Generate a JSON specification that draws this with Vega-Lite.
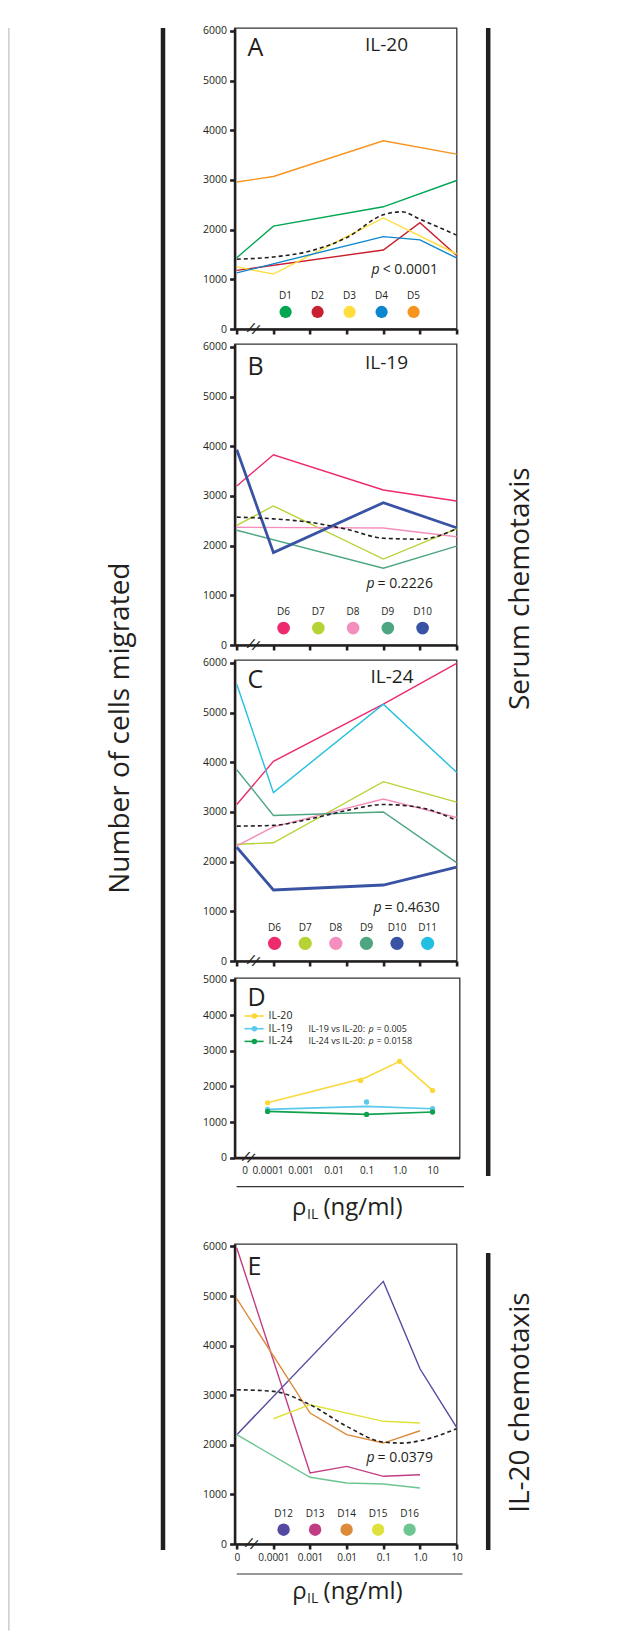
{
"$schema":"https://vega.github.io/schema/vega-lite/v6.json",
"usermeta":{"embedOptions":{"actions":false}},
"padding":{"top":25,"left":8,"right":5,"bottom":3},
"background":"white",
"config":{"font":"Open Sans","view":{"stroke":"#333333","strokeWidth":1.3},
"axis":{"domainColor":"#231f20","domainWidth":2.6,"tickColor":"#231f20","tickWidth":2.6,"tickSize":5,"tickCount":20,"format":"d","labelFont":"Open Sans","labelFontSize":10.5,"labelColor":"#231f20","grid":false,"labelPadding":3,"labelFlush":false,"labelOverlap":false},
"text":{"font":"Open Sans","color":"#231f20"}},
"datasets":{
"lines":[
{"panel":"A","donor":"D1","x":0,"y":1435},{"panel":"A","donor":"D1","x":1,"y":2070},{"panel":"A","donor":"D1","x":4,"y":2460},{"panel":"A","donor":"D1","x":6,"y":2990},
{"panel":"A","donor":"D2","x":0,"y":1180},{"panel":"A","donor":"D2","x":4,"y":1590},{"panel":"A","donor":"D2","x":5,"y":2140},{"panel":"A","donor":"D2","x":6,"y":1480},
{"panel":"A","donor":"D3","x":0,"y":1250},{"panel":"A","donor":"D3","x":1,"y":1105},{"panel":"A","donor":"D3","x":4,"y":2235},{"panel":"A","donor":"D3","x":6,"y":1510},
{"panel":"A","donor":"D4","x":0,"y":1130},{"panel":"A","donor":"D4","x":4,"y":1860},{"panel":"A","donor":"D4","x":5,"y":1795},{"panel":"A","donor":"D4","x":6,"y":1430},
{"panel":"A","donor":"D5","x":0,"y":2960},{"panel":"A","donor":"D5","x":1,"y":3070},{"panel":"A","donor":"D5","x":4,"y":3790},{"panel":"A","donor":"D5","x":6,"y":3520},
{"panel":"B","donor":"D6","x":0,"y":3200},{"panel":"B","donor":"D6","x":1,"y":3830},{"panel":"B","donor":"D6","x":4,"y":3120},{"panel":"B","donor":"D6","x":6,"y":2900},
{"panel":"B","donor":"D7","x":0,"y":2410},{"panel":"B","donor":"D7","x":1,"y":2800},{"panel":"B","donor":"D7","x":4,"y":1730},{"panel":"B","donor":"D7","x":6,"y":2340},
{"panel":"B","donor":"D8","x":0,"y":2370},{"panel":"B","donor":"D8","x":4,"y":2355},{"panel":"B","donor":"D8","x":6,"y":2180},
{"panel":"B","donor":"D9","x":0,"y":2310},{"panel":"B","donor":"D9","x":4,"y":1545},{"panel":"B","donor":"D9","x":6,"y":1990},
{"panel":"B","donor":"D10","x":0,"y":3930},{"panel":"B","donor":"D10","x":1,"y":1860},{"panel":"B","donor":"D10","x":4,"y":2865},{"panel":"B","donor":"D10","x":6,"y":2360},
{"panel":"C","donor":"D6","x":0,"y":3150},{"panel":"C","donor":"D6","x":1,"y":4020},{"panel":"C","donor":"D6","x":4,"y":5170},{"panel":"C","donor":"D6","x":6,"y":5990},
{"panel":"C","donor":"D7","x":0,"y":2350},{"panel":"C","donor":"D7","x":1,"y":2380},{"panel":"C","donor":"D7","x":4,"y":3610},{"panel":"C","donor":"D7","x":6,"y":3200},
{"panel":"C","donor":"D8","x":0,"y":2320},{"panel":"C","donor":"D8","x":1,"y":2700},{"panel":"C","donor":"D8","x":4,"y":3260},{"panel":"C","donor":"D8","x":6,"y":2890},
{"panel":"C","donor":"D9","x":0,"y":3850},{"panel":"C","donor":"D9","x":1,"y":2930},{"panel":"C","donor":"D9","x":4,"y":3000},{"panel":"C","donor":"D9","x":6,"y":1980},
{"panel":"C","donor":"D10","x":0,"y":2290},{"panel":"C","donor":"D10","x":1,"y":1430},{"panel":"C","donor":"D10","x":4,"y":1530},{"panel":"C","donor":"D10","x":6,"y":1890},
{"panel":"C","donor":"D11","x":0,"y":5570},{"panel":"C","donor":"D11","x":1,"y":3390},{"panel":"C","donor":"D11","x":4,"y":5170},{"panel":"C","donor":"D11","x":6,"y":3800},
{"panel":"E","donor":"D12","x":0,"y":2204},{"panel":"E","donor":"D12","x":4,"y":5296},{"panel":"E","donor":"D12","x":5,"y":3534},{"panel":"E","donor":"D12","x":6,"y":2353},
{"panel":"E","donor":"D13","x":0,"y":5968},{"panel":"E","donor":"D13","x":2,"y":1431},{"panel":"E","donor":"D13","x":3,"y":1566},{"panel":"E","donor":"D13","x":4,"y":1365},{"panel":"E","donor":"D13","x":5,"y":1398},
{"panel":"E","donor":"D14","x":0,"y":4946},{"panel":"E","donor":"D14","x":2,"y":2641},{"panel":"E","donor":"D14","x":3,"y":2204},{"panel":"E","donor":"D14","x":4,"y":2036},{"panel":"E","donor":"D14","x":5,"y":2284},
{"panel":"E","donor":"D15","x":1,"y":2526},{"panel":"E","donor":"D15","x":2,"y":2809},{"panel":"E","donor":"D15","x":4,"y":2474},{"panel":"E","donor":"D15","x":5,"y":2440},
{"panel":"E","donor":"D16","x":0,"y":2204},{"panel":"E","donor":"D16","x":2,"y":1345},{"panel":"E","donor":"D16","x":3,"y":1230},{"panel":"E","donor":"D16","x":4,"y":1210},{"panel":"E","donor":"D16","x":5,"y":1129}
],
"fits":[
{"panel":"A","x":0,"y":1405},{"panel":"A","x":1,"y":1450},{"panel":"A","x":2,"y":1570},{"panel":"A","x":3,"y":1840},{"panel":"A","x":4,"y":2300},{"panel":"A","x":4.5,"y":2360},{"panel":"A","x":5,"y":2210},{"panel":"A","x":6,"y":1890},
{"panel":"B","x":0,"y":2575},{"panel":"B","x":1,"y":2540},{"panel":"B","x":2,"y":2470},{"panel":"B","x":3,"y":2330},{"panel":"B","x":4,"y":2150},{"panel":"B","x":5,"y":2130},{"panel":"B","x":6,"y":2340},
{"panel":"C","x":0,"y":2715},{"panel":"C","x":1,"y":2730},{"panel":"C","x":2,"y":2860},{"panel":"C","x":3,"y":3030},{"panel":"C","x":4,"y":3150},{"panel":"C","x":5,"y":3090},{"panel":"C","x":6,"y":2830},
{"panel":"E","x":0,"y":3111},{"panel":"E","x":1,"y":3078},{"panel":"E","x":2,"y":2809},{"panel":"E","x":3,"y":2373},{"panel":"E","x":4,"y":2056},{"panel":"E","x":4.5,"y":2035},{"panel":"E","x":5,"y":2083},{"panel":"E","x":6,"y":2325}
],
"legend":[
{"panel":"A","donor":"D1"},{"panel":"A","donor":"D2"},{"panel":"A","donor":"D3"},{"panel":"A","donor":"D4"},{"panel":"A","donor":"D5"},
{"panel":"B","donor":"D6"},{"panel":"B","donor":"D7"},{"panel":"B","donor":"D8"},{"panel":"B","donor":"D9"},{"panel":"B","donor":"D10"},
{"panel":"C","donor":"D6"},{"panel":"C","donor":"D7"},{"panel":"C","donor":"D8"},{"panel":"C","donor":"D9"},{"panel":"C","donor":"D10"},{"panel":"C","donor":"D11"},
{"panel":"E","donor":"D12"},{"panel":"E","donor":"D13"},{"panel":"E","donor":"D14"},{"panel":"E","donor":"D15"},{"panel":"E","donor":"D16"}
],
"dl":[
{"series":"IL-20","x":1,"y":1540},{"series":"IL-20","x":3.95,"y":2236},{"series":"IL-20","x":5,"y":2703},{"series":"IL-20","x":6,"y":1888},
{"series":"IL-19","x":1,"y":1354},{"series":"IL-19","x":4,"y":1440},{"series":"IL-19","x":6,"y":1374},
{"series":"IL-24","x":1,"y":1298},{"series":"IL-24","x":4,"y":1213},{"series":"IL-24","x":6,"y":1281}
],
"dp":[
{"series":"IL-20","x":1,"y":1540},{"series":"IL-20","x":3.82,"y":2169},{"series":"IL-20","x":5,"y":2703},{"series":"IL-20","x":6,"y":1888},
{"series":"IL-19","x":1,"y":1354},{"series":"IL-19","x":4,"y":1562},{"series":"IL-19","x":6,"y":1374},
{"series":"IL-24","x":1,"y":1298},{"series":"IL-24","x":4,"y":1213},{"series":"IL-24","x":6,"y":1281}
],
"dleg":[
{"series":"IL-20","s1":"","s2":"","s3":""},
{"series":"IL-19","s1":"IL-19 vs IL-20:","s2":"p","s3":"= 0.005"},
{"series":"IL-24","s1":"IL-24 vs IL-20:","s2":"p","s3":"= 0.0158"}
]
},
"spacing":7.6,
"hconcat":[
{"width":30.4,"height":1522,"view":{"stroke":null},
"encoding":{"x":{"datum":0,"type":"quantitative","scale":{"domain":[0,1]},"axis":null},"y":{"datum":0,"type":"quantitative","scale":{"domain":[0,1]},"axis":null}},
"layer":[
{"data":{"values":[{"t":"frame"}]},"mark":{"type":"rule","color":"#c4c4c4","strokeWidth":1.3},"encoding":{"x":{"datum":-5.07},"y":{"datum":-0.053},"y2":{"datum":1}}},
{"data":{"values":[{"t":"bar"}]},"mark":{"type":"rule","color":"#231f20","strokeWidth":4.5},"encoding":{"y":{"datum":0},"y2":{"datum":1}}},
{"data":{"values":[{"t":"Number of cells migrated"}]},"mark":{"type":"text","fontSize":28,"angle":270,"align":"center","baseline":"middle"},"encoding":{"x":{"datum":-1.38},"y":{"datum":0.54},"text":{"field":"t"}}}
]},
{"vconcat":[
{"width":222,"height":301,"resolve":{"scale":{"x":"independent"}},
"layer":[
{"layer":[
{"data":{"name":"lines"},"transform":[{"filter":"datum.panel === 'A'"}],"mark":{"type":"line"},
"encoding":{"x":{"field":"x","type":"quantitative","scale":{"domain":[-0.06,6],"nice":false,"zero":false},"axis":{"values":[0,1,2,3,4,5,6],"labels":false,"title":null}},
"y":{"field":"y","type":"quantitative","scale":{"domain":[0,6060],"nice":false},"axis":{"values":[0,1000,2000,3000,4000,5000,6000],"title":null}},
"color":{"field":"donor","type":"nominal","legend":null,"scale":{"domain":["D1","D2","D3","D4","D5","D6","D7","D8","D9","D10","D11","D12","D13","D14","D15","D16","IL-20","IL-19","IL-24"],"range":["#00a651","#c8202f","#ffde3b","#0c87cf","#f7941d","#ed2a6d","#b6d335","#f48fbd","#4ea680","#3953a4","#23bfe0","#5449a0","#c13d83","#dd8a3a","#dee23b","#6dc592","#fbd839","#5bc8ee","#10a14f"]}},
"strokeWidth":{"condition":{"test":"datum.donor === 'D10'","value":2.8},"value":1.4}}},
{"data":{"name":"fits"},"transform":[{"filter":"datum.panel === 'A'"}],"mark":{"type":"line","color":"#231f20","strokeWidth":1.6,"strokeDash":[4,3],"interpolate":"monotone"},"encoding":{"x":{"field":"x","type":"quantitative"},"y":{"field":"y","type":"quantitative"}}},
{"data":{"values":[{"t":"A"}]},"mark":{"type":"text","fontSize":25,"align":"left","baseline":"alphabetic"},"encoding":{"x":{"datum":0.295},"y":{"datum":5504},"text":{"field":"t"}}},
{"data":{"values":[{"t":"IL-20"}]},"mark":{"type":"text","fontSize":19,"align":"left","baseline":"alphabetic"},"encoding":{"x":{"datum":3.5},"y":{"datum":5591},"text":{"field":"t"}}},
{"data":{"values":[{"t":"p"}]},"mark":{"type":"text","fontSize":14,"fontStyle":"italic","align":"right","baseline":"alphabetic"},"encoding":{"x":{"datum":3.9},"y":{"datum":1103},"text":{"field":"t"}}},
{"data":{"values":[{"t":"< 0.0001"}]},"mark":{"type":"text","fontSize":14,"align":"left","baseline":"alphabetic","dx":3},"encoding":{"x":{"datum":3.9},"y":{"datum":1103},"text":{"field":"t"}}},
{"data":{"values":[{"t":"//"}]},"mark":{"type":"text","fontSize":15,"angle":20,"align":"center","baseline":"middle"},"encoding":{"x":{"datum":0.45},"y":{"datum":0},"text":{"field":"t"}}}
]},
{"data":{"name":"legend"},"transform":[{"filter":"datum.panel === 'A'"}],
"encoding":{"x":{"field":"donor","type":"nominal","scale":{"type":"point","domain":["D1","D2","D3","D4","D5"],"range":[51,179],"padding":0},"axis":null}},
"layer":[
{"mark":{"type":"point","filled":true,"opacity":1,"size":150},"encoding":{"y":{"datum":343},"color":{"field":"donor","type":"nominal","legend":null,"scale":{"domain":["D1","D2","D3","D4","D5","D6","D7","D8","D9","D10","D11","D12","D13","D14","D15","D16","IL-20","IL-19","IL-24"],"range":["#00a651","#c8202f","#ffde3b","#0c87cf","#f7941d","#ed2a6d","#b6d335","#f48fbd","#4ea680","#3953a4","#23bfe0","#5449a0","#c13d83","#dd8a3a","#dee23b","#6dc592","#fbd839","#5bc8ee","#10a14f"]}}}},
{"mark":{"type":"text","fontSize":10,"align":"center","baseline":"alphabetic"},"encoding":{"y":{"datum":599},"text":{"field":"donor"}}}
]}
]},
{"width":222,"height":301,"resolve":{"scale":{"x":"independent"}},
"layer":[
{"layer":[
{"data":{"name":"lines"},"transform":[{"filter":"datum.panel === 'B'"}],"mark":{"type":"line"},
"encoding":{"x":{"field":"x","type":"quantitative","scale":{"domain":[-0.06,6],"nice":false,"zero":false},"axis":{"values":[0,1,2,3,4,5,6],"labels":false,"title":null}},
"y":{"field":"y","type":"quantitative","scale":{"domain":[0,6060],"nice":false},"axis":{"values":[0,1000,2000,3000,4000,5000,6000],"title":null}},
"color":{"field":"donor","type":"nominal","legend":null,"scale":{"domain":["D1","D2","D3","D4","D5","D6","D7","D8","D9","D10","D11","D12","D13","D14","D15","D16","IL-20","IL-19","IL-24"],"range":["#00a651","#c8202f","#ffde3b","#0c87cf","#f7941d","#ed2a6d","#b6d335","#f48fbd","#4ea680","#3953a4","#23bfe0","#5449a0","#c13d83","#dd8a3a","#dee23b","#6dc592","#fbd839","#5bc8ee","#10a14f"]}},
"strokeWidth":{"condition":{"test":"datum.donor === 'D10'","value":2.8},"value":1.4}}},
{"data":{"name":"fits"},"transform":[{"filter":"datum.panel === 'B'"}],"mark":{"type":"line","color":"#231f20","strokeWidth":1.6,"strokeDash":[4,3],"interpolate":"monotone"},"encoding":{"x":{"field":"x","type":"quantitative"},"y":{"field":"y","type":"quantitative"}}},
{"data":{"values":[{"t":"B"}]},"mark":{"type":"text","fontSize":25,"align":"left","baseline":"alphabetic"},"encoding":{"x":{"datum":0.295},"y":{"datum":5442},"text":{"field":"t"}}},
{"data":{"values":[{"t":"IL-19"}]},"mark":{"type":"text","fontSize":19,"align":"left","baseline":"alphabetic"},"encoding":{"x":{"datum":3.5},"y":{"datum":5562},"text":{"field":"t"}}},
{"data":{"values":[{"t":"p"}]},"mark":{"type":"text","fontSize":14,"fontStyle":"italic","align":"right","baseline":"alphabetic"},"encoding":{"x":{"datum":3.76},"y":{"datum":1145},"text":{"field":"t"}}},
{"data":{"values":[{"t":"= 0.2226"}]},"mark":{"type":"text","fontSize":14,"align":"left","baseline":"alphabetic","dx":3},"encoding":{"x":{"datum":3.76},"y":{"datum":1145},"text":{"field":"t"}}},
{"data":{"values":[{"t":"//"}]},"mark":{"type":"text","fontSize":15,"angle":20,"align":"center","baseline":"middle"},"encoding":{"x":{"datum":0.45},"y":{"datum":0},"text":{"field":"t"}}}
]},
{"data":{"name":"legend"},"transform":[{"filter":"datum.panel === 'B'"}],
"encoding":{"x":{"field":"donor","type":"nominal","scale":{"type":"point","domain":["D6","D7","D8","D9","D10"],"range":[49,188],"padding":0},"axis":null}},
"layer":[
{"mark":{"type":"point","filled":true,"opacity":1,"size":160},"encoding":{"y":{"datum":341},"color":{"field":"donor","type":"nominal","legend":null,"scale":{"domain":["D1","D2","D3","D4","D5","D6","D7","D8","D9","D10","D11","D12","D13","D14","D15","D16","IL-20","IL-19","IL-24"],"range":["#00a651","#c8202f","#ffde3b","#0c87cf","#f7941d","#ed2a6d","#b6d335","#f48fbd","#4ea680","#3953a4","#23bfe0","#5449a0","#c13d83","#dd8a3a","#dee23b","#6dc592","#fbd839","#5bc8ee","#10a14f"]}}}},
{"mark":{"type":"text","fontSize":10,"align":"center","baseline":"alphabetic"},"encoding":{"y":{"datum":602},"text":{"field":"donor"}}}
]}
]},
{"width":222,"height":301,"resolve":{"scale":{"x":"independent"}},
"layer":[
{"layer":[
{"data":{"name":"lines"},"transform":[{"filter":"datum.panel === 'C'"}],"mark":{"type":"line"},
"encoding":{"x":{"field":"x","type":"quantitative","scale":{"domain":[-0.06,6],"nice":false,"zero":false},"axis":{"values":[0,1,2,3,4,5,6],"labels":false,"title":null}},
"y":{"field":"y","type":"quantitative","scale":{"domain":[0,6060],"nice":false},"axis":{"values":[0,1000,2000,3000,4000,5000,6000],"title":null}},
"color":{"field":"donor","type":"nominal","legend":null,"scale":{"domain":["D1","D2","D3","D4","D5","D6","D7","D8","D9","D10","D11","D12","D13","D14","D15","D16","IL-20","IL-19","IL-24"],"range":["#00a651","#c8202f","#ffde3b","#0c87cf","#f7941d","#ed2a6d","#b6d335","#f48fbd","#4ea680","#3953a4","#23bfe0","#5449a0","#c13d83","#dd8a3a","#dee23b","#6dc592","#fbd839","#5bc8ee","#10a14f"]}},
"strokeWidth":{"condition":{"test":"datum.donor === 'D10'","value":2.8},"value":1.4}}},
{"data":{"name":"fits"},"transform":[{"filter":"datum.panel === 'C'"}],"mark":{"type":"line","color":"#231f20","strokeWidth":1.6,"strokeDash":[4,3],"interpolate":"monotone"},"encoding":{"x":{"field":"x","type":"quantitative"},"y":{"field":"y","type":"quantitative"}}},
{"data":{"values":[{"t":"C"}]},"mark":{"type":"text","fontSize":25,"align":"left","baseline":"alphabetic"},"encoding":{"x":{"datum":0.295},"y":{"datum":5496},"text":{"field":"t"}}},
{"data":{"values":[{"t":"IL-24"}]},"mark":{"type":"text","fontSize":19,"align":"left","baseline":"alphabetic"},"encoding":{"x":{"datum":3.65},"y":{"datum":5596},"text":{"field":"t"}}},
{"data":{"values":[{"t":"p"}]},"mark":{"type":"text","fontSize":14,"fontStyle":"italic","align":"right","baseline":"alphabetic"},"encoding":{"x":{"datum":3.95},"y":{"datum":990},"text":{"field":"t"}}},
{"data":{"values":[{"t":"= 0.4630"}]},"mark":{"type":"text","fontSize":14,"align":"left","baseline":"alphabetic","dx":3},"encoding":{"x":{"datum":3.95},"y":{"datum":990},"text":{"field":"t"}}},
{"data":{"values":[{"t":"//"}]},"mark":{"type":"text","fontSize":15,"angle":20,"align":"center","baseline":"middle"},"encoding":{"x":{"datum":0.45},"y":{"datum":0},"text":{"field":"t"}}}
]},
{"data":{"name":"legend"},"transform":[{"filter":"datum.panel === 'C'"}],
"encoding":{"x":{"field":"donor","type":"nominal","scale":{"type":"point","domain":["D6","D7","D8","D9","D10","D11"],"range":[40,193],"padding":0},"axis":null}},
"layer":[
{"mark":{"type":"point","filled":true,"opacity":1,"size":175},"encoding":{"y":{"datum":355},"color":{"field":"donor","type":"nominal","legend":null,"scale":{"domain":["D1","D2","D3","D4","D5","D6","D7","D8","D9","D10","D11","D12","D13","D14","D15","D16","IL-20","IL-19","IL-24"],"range":["#00a651","#c8202f","#ffde3b","#0c87cf","#f7941d","#ed2a6d","#b6d335","#f48fbd","#4ea680","#3953a4","#23bfe0","#5449a0","#c13d83","#dd8a3a","#dee23b","#6dc592","#fbd839","#5bc8ee","#10a14f"]}}}},
{"mark":{"type":"text","fontSize":10,"align":"center","baseline":"alphabetic"},"encoding":{"y":{"datum":608},"text":{"field":"donor"}}}
]}
]},
{"width":225,"height":179.6,"resolve":{"scale":{"y":"independent"}},
"layer":[
{"layer":[
{"data":{"name":"dl"},"mark":{"type":"line","strokeWidth":1.6},
"encoding":{"x":{"field":"x","type":"quantitative","scale":{"domain":[0,6.82],"nice":false,"zero":false},"axis":{"values":[0.3,1,2,3,4,5,6],"ticks":false,"labelPadding":8,"labelFontSize":10,"title":null,"labelExpr":"datum.value < 0.5 ? '0' : ['0','0.0001','0.001','0.01','0.1','1.0','10'][datum.value]"}},
"y":{"field":"y","type":"quantitative","scale":{"domain":[0,5045],"nice":false},"axis":{"values":[0,1000,2000,3000,4000,5000],"title":null}},
"color":{"field":"series","type":"nominal","legend":null,"scale":{"domain":["D1","D2","D3","D4","D5","D6","D7","D8","D9","D10","D11","D12","D13","D14","D15","D16","IL-20","IL-19","IL-24"],"range":["#00a651","#c8202f","#ffde3b","#0c87cf","#f7941d","#ed2a6d","#b6d335","#f48fbd","#4ea680","#3953a4","#23bfe0","#5449a0","#c13d83","#dd8a3a","#dee23b","#6dc592","#fbd839","#5bc8ee","#10a14f"]}},
"strokeWidth":{"condition":{"test":"datum.series === 'IL-19'","value":2.2},"value":1.6}}},
{"data":{"name":"dp"},"mark":{"type":"point","filled":true,"opacity":1,"size":28},
"encoding":{"x":{"field":"x","type":"quantitative"},"y":{"field":"y","type":"quantitative"},
"color":{"field":"series","type":"nominal","legend":null,"scale":{"domain":["D1","D2","D3","D4","D5","D6","D7","D8","D9","D10","D11","D12","D13","D14","D15","D16","IL-20","IL-19","IL-24"],"range":["#00a651","#c8202f","#ffde3b","#0c87cf","#f7941d","#ed2a6d","#b6d335","#f48fbd","#4ea680","#3953a4","#23bfe0","#5449a0","#c13d83","#dd8a3a","#dee23b","#6dc592","#fbd839","#5bc8ee","#10a14f"]}}}},
{"data":{"values":[{"t":"D"}]},"mark":{"type":"text","fontSize":25,"align":"left","baseline":"alphabetic"},"encoding":{"x":{"datum":0.39},"y":{"datum":4258},"text":{"field":"t"}}},
{"data":{"values":[{"t":"//"}]},"mark":{"type":"text","fontSize":15,"angle":20,"align":"center","baseline":"middle"},"encoding":{"x":{"datum":0.42},"y":{"datum":0},"text":{"field":"t"}}},
{"data":{"values":[{"t":"rule"}]},"mark":{"type":"rule","color":"#333333","strokeWidth":1.2},"encoding":{"x":{"datum":0.06},"x2":{"datum":6.95},"y":{"datum":-817}}},
{"data":{"values":[{"t":"ρ"}]},"mark":{"type":"text","fontSize":24,"align":"right","baseline":"alphabetic"},"encoding":{"x":{"datum":2.18},"y":{"datum":-1620},"text":{"field":"t"}}},
{"data":{"values":[{"t":"IL"}]},"mark":{"type":"text","fontSize":14,"align":"left","baseline":"alphabetic","dx":0.5,"dy":4},"encoding":{"x":{"datum":2.18},"y":{"datum":-1620},"text":{"field":"t"}}},
{"data":{"values":[{"t":"(ng/ml)"}]},"mark":{"type":"text","fontSize":24,"align":"left","baseline":"alphabetic","dx":17},"encoding":{"x":{"datum":2.18},"y":{"datum":-1620},"text":{"field":"t"}}}
]},
{"data":{"name":"dleg"},
"encoding":{"y":{"field":"series","type":"nominal","scale":{"type":"point","domain":["IL-20","IL-19","IL-24"],"range":[38,63.4],"padding":0},"axis":null}},
"layer":[
{"mark":{"type":"rule","strokeWidth":1.6},"encoding":{"x":{"datum":0.3},"x2":{"datum":0.88},"color":{"field":"series","type":"nominal","legend":null,"scale":{"domain":["D1","D2","D3","D4","D5","D6","D7","D8","D9","D10","D11","D12","D13","D14","D15","D16","IL-20","IL-19","IL-24"],"range":["#00a651","#c8202f","#ffde3b","#0c87cf","#f7941d","#ed2a6d","#b6d335","#f48fbd","#4ea680","#3953a4","#23bfe0","#5449a0","#c13d83","#dd8a3a","#dee23b","#6dc592","#fbd839","#5bc8ee","#10a14f"]}}}},
{"mark":{"type":"point","filled":true,"opacity":1,"size":30},"encoding":{"x":{"datum":0.6},"color":{"field":"series","type":"nominal","legend":null,"scale":{"domain":["D1","D2","D3","D4","D5","D6","D7","D8","D9","D10","D11","D12","D13","D14","D15","D16","IL-20","IL-19","IL-24"],"range":["#00a651","#c8202f","#ffde3b","#0c87cf","#f7941d","#ed2a6d","#b6d335","#f48fbd","#4ea680","#3953a4","#23bfe0","#5449a0","#c13d83","#dd8a3a","#dee23b","#6dc592","#fbd839","#5bc8ee","#10a14f"]}}}},
{"mark":{"type":"text","fontSize":10.5,"align":"left","baseline":"middle"},"encoding":{"x":{"datum":1.03},"text":{"field":"series"}}},
{"mark":{"type":"text","fontSize":9,"align":"left","baseline":"middle"},"encoding":{"x":{"datum":2.24},"text":{"field":"s1"}}},
{"mark":{"type":"text","fontSize":9,"fontStyle":"italic","align":"left","baseline":"middle"},"encoding":{"x":{"datum":4.06},"text":{"field":"s2"}}},
{"mark":{"type":"text","fontSize":9,"align":"left","baseline":"middle"},"encoding":{"x":{"datum":4.3},"text":{"field":"s3"}}}
]}
]},
{"width":222,"height":14.4,"view":{"stroke":null},"data":{"values":[{"t":""}]},"mark":{"type":"text"},"encoding":{"text":{"field":"t"}}},
{"width":222,"height":300,"resolve":{"scale":{"x":"independent"}},
"layer":[
{"layer":[
{"data":{"name":"lines"},"transform":[{"filter":"datum.panel === 'E'"}],"mark":{"type":"line"},
"encoding":{"x":{"field":"x","type":"quantitative","scale":{"domain":[-0.06,6],"nice":false,"zero":false},"axis":{"values":[0,1,2,3,4,5,6],"labelFontSize":10,"title":null,"labelExpr":"['0','0.0001','0.001','0.01','0.1','1.0','10'][datum.value]"}},
"y":{"field":"y","type":"quantitative","scale":{"domain":[0,6050],"nice":false},"axis":{"values":[0,1000,2000,3000,4000,5000,6000],"title":null}},
"color":{"field":"donor","type":"nominal","legend":null,"scale":{"domain":["D1","D2","D3","D4","D5","D6","D7","D8","D9","D10","D11","D12","D13","D14","D15","D16","IL-20","IL-19","IL-24"],"range":["#00a651","#c8202f","#ffde3b","#0c87cf","#f7941d","#ed2a6d","#b6d335","#f48fbd","#4ea680","#3953a4","#23bfe0","#5449a0","#c13d83","#dd8a3a","#dee23b","#6dc592","#fbd839","#5bc8ee","#10a14f"]}},
"strokeWidth":{"value":1.4}}},
{"data":{"name":"fits"},"transform":[{"filter":"datum.panel === 'E'"}],"mark":{"type":"line","color":"#231f20","strokeWidth":1.6,"strokeDash":[4,3],"interpolate":"monotone"},"encoding":{"x":{"field":"x","type":"quantitative"},"y":{"field":"y","type":"quantitative"}}},
{"data":{"values":[{"t":"E"}]},"mark":{"type":"text","fontSize":25,"align":"left","baseline":"alphabetic"},"encoding":{"x":{"datum":0.295},"y":{"datum":5429},"text":{"field":"t"}}},
{"data":{"values":[{"t":"p"}]},"mark":{"type":"text","fontSize":14,"fontStyle":"italic","align":"right","baseline":"alphabetic"},"encoding":{"x":{"datum":3.76},"y":{"datum":1653},"text":{"field":"t"}}},
{"data":{"values":[{"t":"= 0.0379"}]},"mark":{"type":"text","fontSize":14,"align":"left","baseline":"alphabetic","dx":3},"encoding":{"x":{"datum":3.76},"y":{"datum":1653},"text":{"field":"t"}}},
{"data":{"values":[{"t":"//"}]},"mark":{"type":"text","fontSize":15,"angle":20,"align":"center","baseline":"middle"},"encoding":{"x":{"datum":0.4},"y":{"datum":0},"text":{"field":"t"}}},
{"data":{"values":[{"t":"rule"}]},"mark":{"type":"rule","color":"#333333","strokeWidth":1.2},"encoding":{"x":{"datum":0},"x2":{"datum":6.16},"y":{"datum":-605}}},
{"data":{"values":[{"t":"ρ"}]},"mark":{"type":"text","fontSize":24,"align":"right","baseline":"alphabetic"},"encoding":{"x":{"datum":1.906},"y":{"datum":-1100},"text":{"field":"t"}}},
{"data":{"values":[{"t":"IL"}]},"mark":{"type":"text","fontSize":14,"align":"left","baseline":"alphabetic","dx":0.5,"dy":4},"encoding":{"x":{"datum":1.906},"y":{"datum":-1100},"text":{"field":"t"}}},
{"data":{"values":[{"t":"(ng/ml)"}]},"mark":{"type":"text","fontSize":24,"align":"left","baseline":"alphabetic","dx":17},"encoding":{"x":{"datum":1.906},"y":{"datum":-1100},"text":{"field":"t"}}}
]},
{"data":{"name":"legend"},"transform":[{"filter":"datum.panel === 'E'"}],
"encoding":{"x":{"field":"donor","type":"nominal","scale":{"type":"point","domain":["D12","D13","D14","D15","D16"],"range":[49,175],"padding":0},"axis":null}},
"layer":[
{"mark":{"type":"point","filled":true,"opacity":1,"size":155},"encoding":{"y":{"datum":288},"color":{"field":"donor","type":"nominal","legend":null,"scale":{"domain":["D1","D2","D3","D4","D5","D6","D7","D8","D9","D10","D11","D12","D13","D14","D15","D16","IL-20","IL-19","IL-24"],"range":["#00a651","#c8202f","#ffde3b","#0c87cf","#f7941d","#ed2a6d","#b6d335","#f48fbd","#4ea680","#3953a4","#23bfe0","#5449a0","#c13d83","#dd8a3a","#dee23b","#6dc592","#fbd839","#5bc8ee","#10a14f"]}}}},
{"mark":{"type":"text","fontSize":10,"align":"center","baseline":"alphabetic"},"encoding":{"y":{"datum":538},"text":{"field":"donor"}}}
]}
]}
],"spacing":1,"resolve":{"scale":{"x":"independent","y":"independent"}}},
{"width":15,"height":1522,"view":{"stroke":null},
"encoding":{"x":{"datum":1,"type":"quantitative","scale":{"domain":[0,1]},"axis":null},"y":{"datum":0,"type":"quantitative","scale":{"domain":[0,1]},"axis":null}},
"layer":[
{"data":{"values":[{"t":"serum"}]},"mark":{"type":"rule","color":"#231f20","strokeWidth":4.5},"encoding":{"y":{"datum":0.2457},"y2":{"datum":1}}},
{"data":{"values":[{"t":"il20"}]},"mark":{"type":"rule","color":"#231f20","strokeWidth":4.5},"encoding":{"y":{"datum":0},"y2":{"datum":0.1951}}},
{"data":{"values":[{"t":"Serum chemotaxis"}]},"mark":{"type":"text","fontSize":28,"angle":270,"align":"center","baseline":"middle"},"encoding":{"x":{"datum":3.2},"y":{"datum":0.6316},"text":{"field":"t"}}},
{"data":{"values":[{"t":"IL-20 chemotaxis"}]},"mark":{"type":"text","fontSize":28,"angle":270,"align":"center","baseline":"middle"},"encoding":{"x":{"datum":3.2},"y":{"datum":0.0968},"text":{"field":"t"}}}
]}
]
}
